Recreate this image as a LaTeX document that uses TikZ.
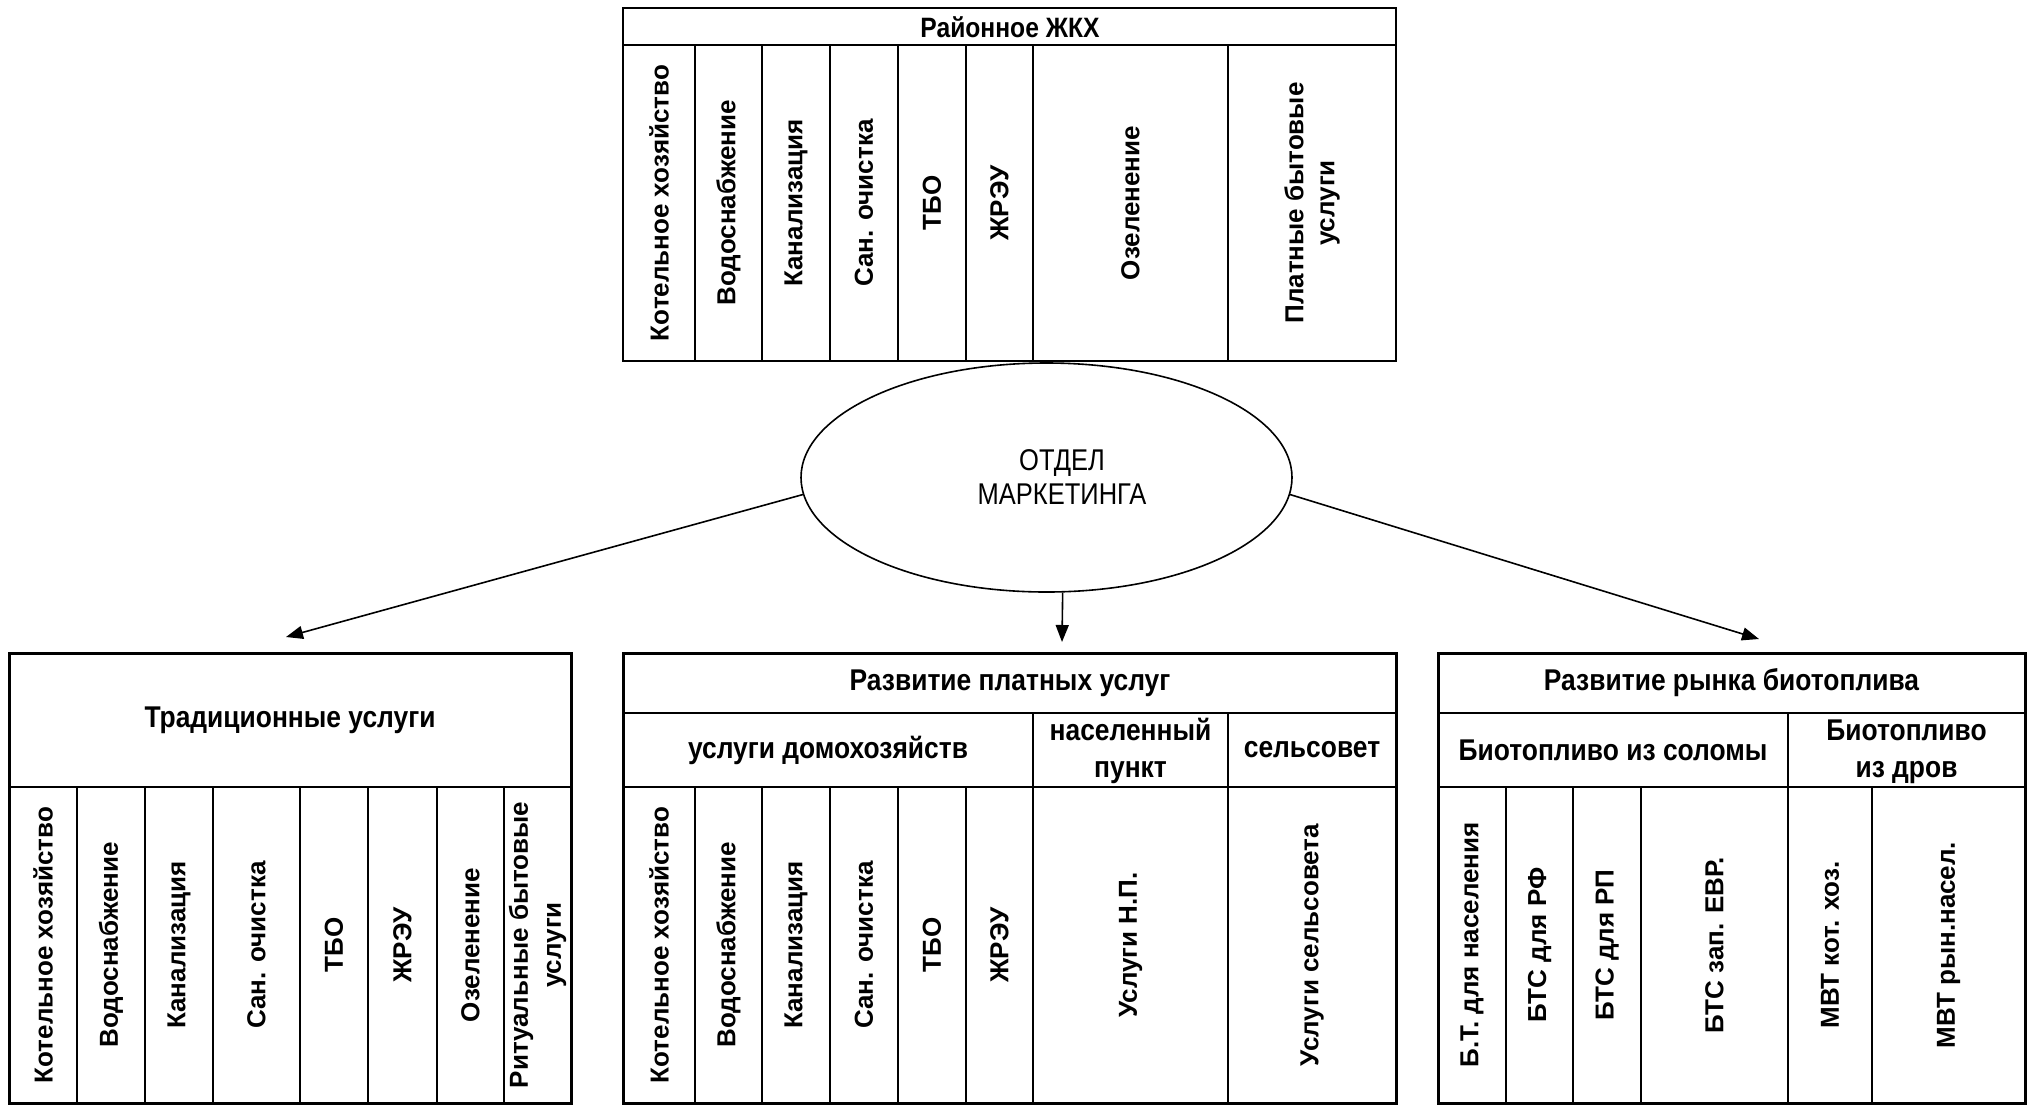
\documentclass[tikz,border=0pt]{standalone}
\usepackage{fontspec}
\setmainfont{Liberation Sans}
\newfontfamily\nbf[FakeStretch=0.88]{Liberation Sans Bold}
\newfontfamily\nrm[FakeStretch=0.85]{Liberation Sans}
\usetikzlibrary{shapes.geometric,arrows.meta}
\begin{document}
\begin{tikzpicture}[x=1pt,y=-1pt,
  vt/.style={rotate=90,font=\fontsize{26}{31}\selectfont\bfseries,align=center,inner sep=0pt},
  hd/.style={font=\nbf\fontsize{30}{37}\selectfont,align=center,inner sep=0pt},
  thin/.style={line width=1.6pt},
  outer/.style={line width=3pt},
  inner/.style={line width=2.2pt},
  conn/.style={line width=1.6pt,-{Triangle[length=17pt,width=13pt]}}]
\useasboundingbox (0,0) rectangle (2034,1104);

% ---------- top table
\draw[thin] (623,8) rectangle (1396,361);
\draw[thin] (623,45) -- (1396,45);
\foreach \xx in {695,762,830,898,966,1033,1228} \draw[thin] (\xx,45) -- (\xx,361);
\node[hd,font=\nbf\fontsize{28}{34}\selectfont] (zkh) at (1010,27) {Районное ЖКХ};
\node[vt] (t1) at (659,203) {Котельное хозяйство};
\node[vt] (t2) at (728.5,203) {Водоснабжение};
\node[vt] (t3) at (796,203) {Канализация};
\node[vt] (t4) at (864,203) {Сан. очистка};
\node[vt] (t5) at (932,203) {ТБО};
\node[vt] (t6) at (999.5,203) {ЖРЭУ};
\node[vt] (t7) at (1130.5,203) {Озеленение};
\node[vt] (t8) at (1312,203) {Платные бытовые\\услуги};

% ---------- ellipse
\node[ellipse,draw,line width=1.6pt,minimum width=491pt,minimum height=229pt,inner sep=0pt] (ell) at (1046.5,477.5) {};
\node[font=\nrm\fontsize{30}{34}\selectfont,align=center,inner sep=0pt] (elltxt) at (1062,477) {ОТДЕЛ\\МАРКЕТИНГА};

% ---------- left box
\draw[inner] (9,787) -- (571,787);
\foreach \xx in {77,145,213,300,368,437,504} \draw[inner] (\xx,787) -- (\xx,1103);
\draw[outer] (9,653) rectangle (571,1103);
\node[hd] (trad) at (290,720) {Традиционные услуги};
\node[vt] (l1) at (43,945) {Котельное хозяйство};
\node[vt] (l2) at (111,945) {Водоснабжение};
\node[vt] (l3) at (179,945) {Канализация};
\node[vt] (l4) at (256.5,945) {Сан. очистка};
\node[vt] (l5) at (334,945) {ТБО};
\node[vt] (l6) at (402.5,945) {ЖРЭУ};
\node[vt] (l7) at (470.5,945) {Озеленение};
\node[vt,font=\fontsize{26}{33}\selectfont\bfseries] (l8) at (537.5,945) {Ритуальные бытовые\\услуги};

% ---------- middle box
\draw[inner] (623,713) -- (1396,713);
\draw[inner] (623,787) -- (1396,787);
\foreach \xx in {1033,1228} \draw[inner] (\xx,713) -- (\xx,1103);
\foreach \xx in {695,762,830,898,966} \draw[inner] (\xx,787) -- (\xx,1103);
\draw[outer] (623,653) rectangle (1396,1103);
\node[hd] (plat) at (1010,683) {Развитие платных услуг};
\node[hd] (dom) at (828,750) {услуги домохозяйств};
\node[hd] (np) at (1130.5,751) {населенный\\пункт};
\node[hd] (ss) at (1312,750) {сельсовет};
\node[vt] (m1) at (659,945) {Котельное хозяйство};
\node[vt] (m2) at (728.5,945) {Водоснабжение};
\node[vt] (m3) at (796,945) {Канализация};
\node[vt] (m4) at (864,945) {Сан. очистка};
\node[vt] (m5) at (932,945) {ТБО};
\node[vt] (m6) at (999.5,945) {ЖРЭУ};
\node[vt] (m7) at (1130.5,945) {Услуги Н.П.};
\node[vt] (m8) at (1312,945) {Услуги сельсовета};

% ---------- right box
\draw[inner] (1438,713) -- (2025,713);
\draw[inner] (1438,787) -- (2025,787);
\draw[inner] (1788,713) -- (1788,1103);
\foreach \xx in {1506,1573,1641,1872} \draw[inner] (\xx,787) -- (\xx,1103);
\draw[outer] (1438,653) rectangle (2025,1103);
\node[hd] (bio) at (1731.5,683) {Развитие рынка биотоплива};
\node[hd] (sol) at (1613,750) {Биотопливо из соломы};
\node[hd] (drov) at (1906.5,752) {Биотопливо\\из дров};
\node[vt] (r1) at (1472,945) {Б.Т. для населения};
\node[vt] (r2) at (1539.5,945) {БТС для РФ};
\node[vt] (r3) at (1607,945) {БТС для РП};
\node[vt] (r4) at (1714.5,945) {БТС зап. ЕВР.};
\node[vt] (r5) at (1830,945) {МВТ кот. хоз.};
\node[vt] (r6) at (1948.5,945) {МВТ рын.насел.};

% ---------- connectors
\coordinate (tipL) at (286,637);
\coordinate (tipM) at (1062,642);
\coordinate (tipR) at (1759,639);
\draw[conn] (ell.184) -- (tipL);
\draw[conn] (ell.-82) -- (tipM);
\draw[conn] (ell.-4) -- (tipR);
\end{tikzpicture}
\end{document}
